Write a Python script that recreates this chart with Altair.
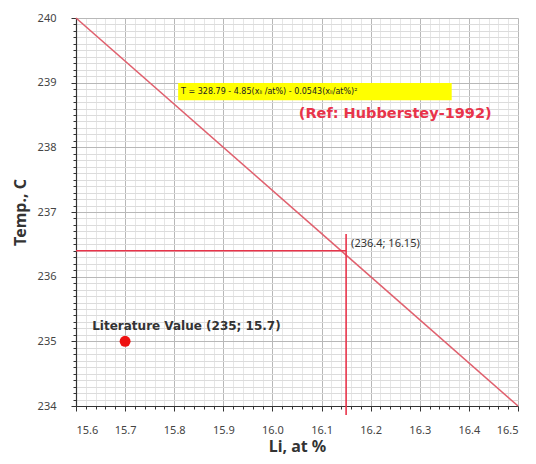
import altair as alt
import pandas as pd
import numpy as np

# --- data ---
li_line = [15.6, 16.5]
temp_line = [240.0, 234.0]

cross_li = 16.15
cross_temp = 236.4

lit_li = [15.7]
lit_temp = [235.0]

x_domain = [15.6, 16.5]
y_domain = [234, 240]

x_ticks = [round(float(v), 2) for v in np.arange(15.6, 16.5001, 0.02)]
y_ticks = [round(float(v), 1) for v in np.arange(234, 240.001, 0.1)]

eq_text = "T = 328.79 - 4.85(xₗᵢ /at%) - 0.0543(xₗᵢ/at%)²"
ref_text = "(Ref: Hubberstey-1992)"
cross_label = "(236.4; 16.15)"
lit_label = "Literature Value (235; 15.7)"

FONT = "Noto Sans"
WIDE = "DejaVu Sans"

xs = alt.Scale(domain=x_domain, nice=False, zero=False)
ys = alt.Scale(domain=y_domain, nice=False, zero=False)

x_major = "abs(datum.value*10 - round(datum.value*10)) < 0.001"
y_major = "abs(datum.value - round(datum.value)) < 0.001"

x_axis = alt.Axis(
    values=x_ticks, title="Li, at %",
    labelExpr=f"{x_major} ? format(datum.value, '.1f') : ''",
    labelOverlap=False, labelFontSize=11, labelColor="#444", labelFont=FONT,
    labelPadding=13,
    titleFontSize=16, titleFontWeight="bold", titleFont=FONT, titleColor="#333",
    titlePadding=3,
    grid=True,
    gridColor={"condition": {"test": x_major, "value": "#b8b8b8"}, "value": "#e6e6e6"},
    tickColor="#333", tickSize={"condition": {"test": x_major, "value": 5}, "value": 3},
    domainColor="#333", domainWidth=1.2,
)
y_axis = alt.Axis(
    values=y_ticks, title="Temp., C",
    labelExpr=f"{y_major} ? format(datum.value, 'd') : ''",
    labelOverlap=False, labelFontSize=11, labelColor="#444", labelFont=FONT,
    labelPadding=15,
    titleFontSize=16, titleFontWeight="bold", titleFont=FONT, titleColor="#333",
    titlePadding=9,
    grid=True,
    gridColor={"condition": {"test": y_major, "value": "#b8b8b8"}, "value": "#dcdcdc"},
    tickColor="#333", tickSize={"condition": {"test": y_major, "value": 5}, "value": 3},
    domainColor="#333", domainWidth=1.2,
)


def X(f):
    return alt.X(f, type="quantitative", scale=xs, axis=x_axis)


def Y(f):
    return alt.Y(f, type="quantitative", scale=ys, axis=y_axis)


line_df = pd.DataFrame({"li": li_line, "temp": temp_line})
base_line = alt.Chart(line_df).mark_line(color="#e0606e", strokeWidth=1.6).encode(
    x=X("li"), y=Y("temp")
)

h_df = pd.DataFrame({"x": [x_domain[0]], "x2": [cross_li], "y": [cross_temp]})
h_rule = alt.Chart(h_df).mark_rule(color="#e8344a", strokeWidth=1.6).encode(
    x=X("x"), x2="x2:Q", y=Y("y")
)
v_df = pd.DataFrame({"x": [cross_li], "y": [233.86], "y2": [236.66]})
v_rule = alt.Chart(v_df).mark_rule(color="#e8344a", strokeWidth=1.6, clip=False).encode(
    x=X("x"), y=Y("y"), y2="y2:Q"
)

cross_txt = alt.Chart(pd.DataFrame({"x": [cross_li], "y": [cross_temp], "t": [cross_label]})).mark_text(
    align="left", baseline="bottom", dx=5, dy=-2, fontSize=11, font=FONT, color="#333"
).encode(x=X("x"), y=Y("y"), text="t:N")

lit_df = pd.DataFrame({"li": lit_li, "temp": lit_temp})
lit_pt = alt.Chart(lit_df).mark_point(filled=True, color="#ee1111", size=120, opacity=1).encode(
    x=X("li"), y=Y("temp")
)
lit_txt = alt.Chart(pd.DataFrame({"x": [15.633], "y": [235.24], "t": [lit_label]})).mark_text(
    align="left", baseline="middle", fontSize=12, fontWeight="bold", font=WIDE, color="#333"
).encode(x=X("x"), y=Y("y"), text="t:N")

box_df = pd.DataFrame({"x": [15.808], "x2": [16.365], "y": [238.73], "y2": [238.995]})
eq_box = alt.Chart(box_df).mark_rect(color="#ffff00").encode(
    x=X("x"), x2="x2:Q", y=Y("y"), y2="y2:Q"
)
eq_txt = alt.Chart(pd.DataFrame({"x": [15.814], "y": [238.862], "t": [eq_text]})).mark_text(
    align="left", baseline="middle", fontSize=8, font=WIDE, color="#222"
).encode(x=X("x"), y=Y("y"), text="t:N")

ref_txt = alt.Chart(pd.DataFrame({"x": [16.25], "y": [238.52], "t": [ref_text]})).mark_text(
    align="center", baseline="middle", fontSize=14.5, fontWeight="bold", font=WIDE, color="#e8344a"
).encode(x=X("x"), y=Y("y"), text="t:N")

chart = alt.layer(
    base_line, eq_box, eq_txt, ref_txt, h_rule, v_rule, cross_txt, lit_pt, lit_txt
).properties(
    width=442, height=388,
    autosize=alt.AutoSizeParams(type="none"),
    padding={"left": 68, "top": 10, "right": 10, "bottom": 50},
).configure_view(stroke=None).configure(background="white")

chart.save("out.html", embed_options={"renderer": "svg", "actions": False})
